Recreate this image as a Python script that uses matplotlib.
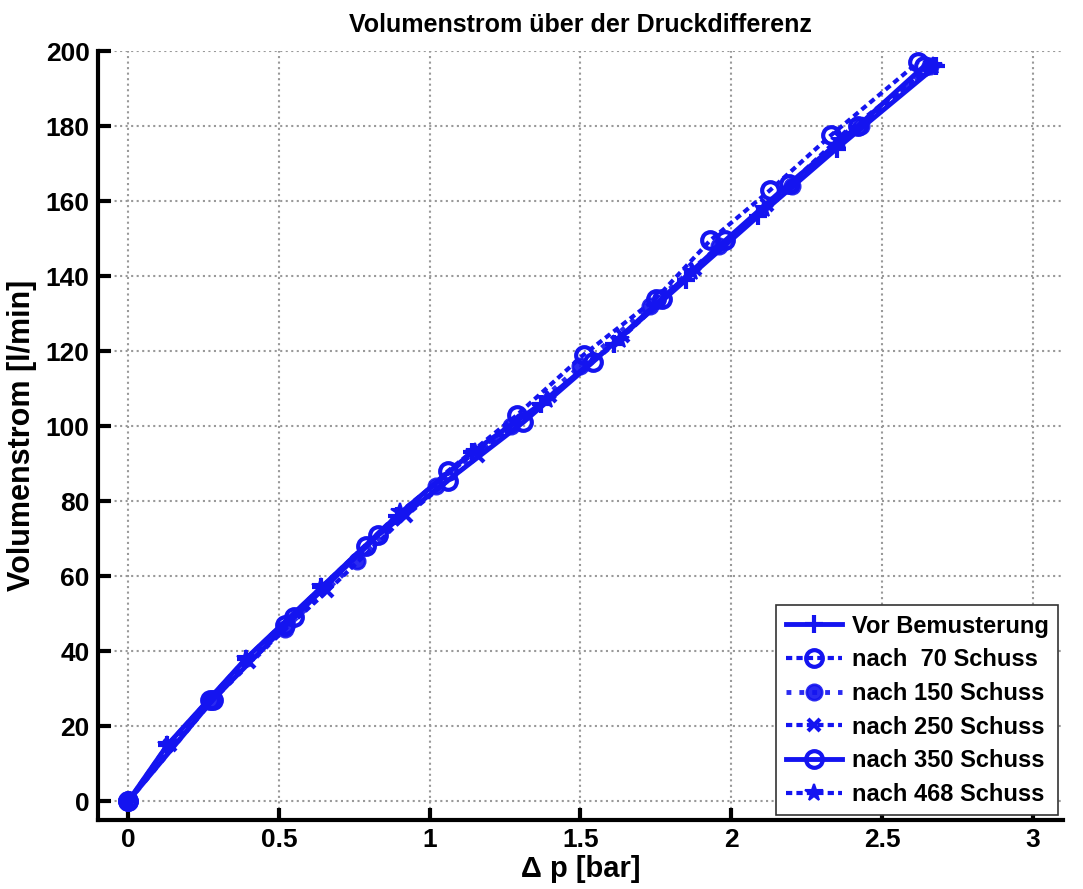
import matplotlib
matplotlib.use('Agg')
import matplotlib.pyplot as plt

plt.rcParams['font.family'] = ['Liberation Sans', 'DejaVu Sans']
plt.rcParams['font.weight'] = 'bold'

# Messdaten (aus dem Bild geschaetzt)
x_vor = [0, 0.13, 0.39, 0.64, 0.89, 1.14, 1.37, 1.61, 1.85, 2.09, 2.35, 2.68]
y_vor = [0, 15, 38, 57, 76, 93, 106, 122, 139, 156, 174, 196]

x_70 = [0, 0.27, 0.52, 0.79, 1.06, 1.29, 1.51, 1.75, 1.93, 2.13, 2.33, 2.62]
y_70 = [0, 27, 47, 68, 88, 103, 119, 134, 149.5, 163, 177.5, 197]

x_150 = [0, 0.28, 0.52, 0.76, 1.02, 1.27, 1.50, 1.73, 1.96, 2.20, 2.43, 2.66]
y_150 = [0, 27, 46, 64, 84, 100, 116, 132, 148, 164, 180, 196]

x_250 = [0, 0.14, 0.40, 0.66, 0.92, 1.16, 1.40, 1.64, 1.88, 2.12, 2.36, 2.66]
y_250 = [0, 15, 37, 56, 76, 92, 108, 124, 142, 159, 177, 196]

x_350 = [0, 0.28, 0.55, 0.83, 1.06, 1.31, 1.54, 1.77, 1.98, 2.19, 2.42, 2.64]
y_350 = [0, 27, 49, 71, 85.5, 101, 117, 134, 149.5, 164.5, 180, 196]

x_468 = [0, 0.13, 0.39, 0.64, 0.90, 1.15, 1.39, 1.63, 1.87, 2.11, 2.36, 2.67]
y_468 = [0, 15, 38, 57, 77, 93, 107, 123, 141, 158, 176, 196]

blue = '#1414f0'

fig = plt.figure(figsize=(10.83, 8.89), dpi=100)
ax = fig.add_axes([0.0905, 0.0776, 0.891, 0.865])

ax.plot(x_vor, y_vor, '-', marker='+', color=blue, lw=3.5, ms=13, mew=3, label='Vor Bemusterung')
ax.plot(x_70, y_70, '--', marker='o', color=blue, lw=3, ms=12, mew=3, mfc='none',
        dashes=(1.5, 1), label='nach  70 Schuss')
ax.plot(x_150, y_150, ':', marker='o', color=blue, lw=3.5, ms=11, mew=2, alpha=0.9,
        markeredgecolor=blue, label='nach 150 Schuss')
ax.plot(x_250, y_250, '--', marker='x', color=blue, lw=3, ms=9, mew=3,
        dashes=(1.5, 1), label='nach 250 Schuss')
ax.plot(x_350, y_350, '-', marker='o', color=blue, lw=3.5, ms=12, mew=3, mfc='none',
        label='nach 350 Schuss')
ax.plot(x_468, y_468, '--', marker='*', color=blue, lw=3, ms=13, mew=1.5,
        dashes=(1.5, 1), label='nach 468 Schuss')

ax.set_xlim(-0.1, 3.1)
ax.set_ylim(-5, 200)
ax.set_xticks([0, 0.5, 1, 1.5, 2, 2.5, 3])
ax.set_xticklabels(['0', '0.5', '1', '1.5', '2', '2.5', '3'])
ax.set_yticks(range(0, 201, 20))

ax.grid(True, linestyle=':', color='#999999', lw=1.5)
ax.spines['top'].set_visible(False)
ax.spines['right'].set_visible(False)
ax.spines['left'].set_linewidth(3)
ax.spines['bottom'].set_linewidth(3)
ax.tick_params(direction='in', length=9, width=3, labelsize=19, pad=6)
for lbl in ax.get_xticklabels() + ax.get_yticklabels():
    lbl.set_fontweight('bold')

ax.set_xlabel('\u0394 p [bar]', fontsize=21, fontweight='bold', labelpad=2)
ax.set_ylabel('Volumenstrom [l/min]', fontsize=22, fontweight='bold', labelpad=6)
ax.set_title('Volumenstrom über der Druckdifferenz', fontsize=18, fontweight='bold', pad=14)

leg = ax.legend(loc='lower right', prop={'weight': 'bold', 'size': 17},
                fancybox=False, framealpha=1, edgecolor='#333333', handlelength=2.4,
                borderaxespad=0.2, labelspacing=0.45, handletextpad=0.4, borderpad=0.4)
leg.get_frame().set_linewidth(1.2)

fig.savefig('out.png', dpi=100)
